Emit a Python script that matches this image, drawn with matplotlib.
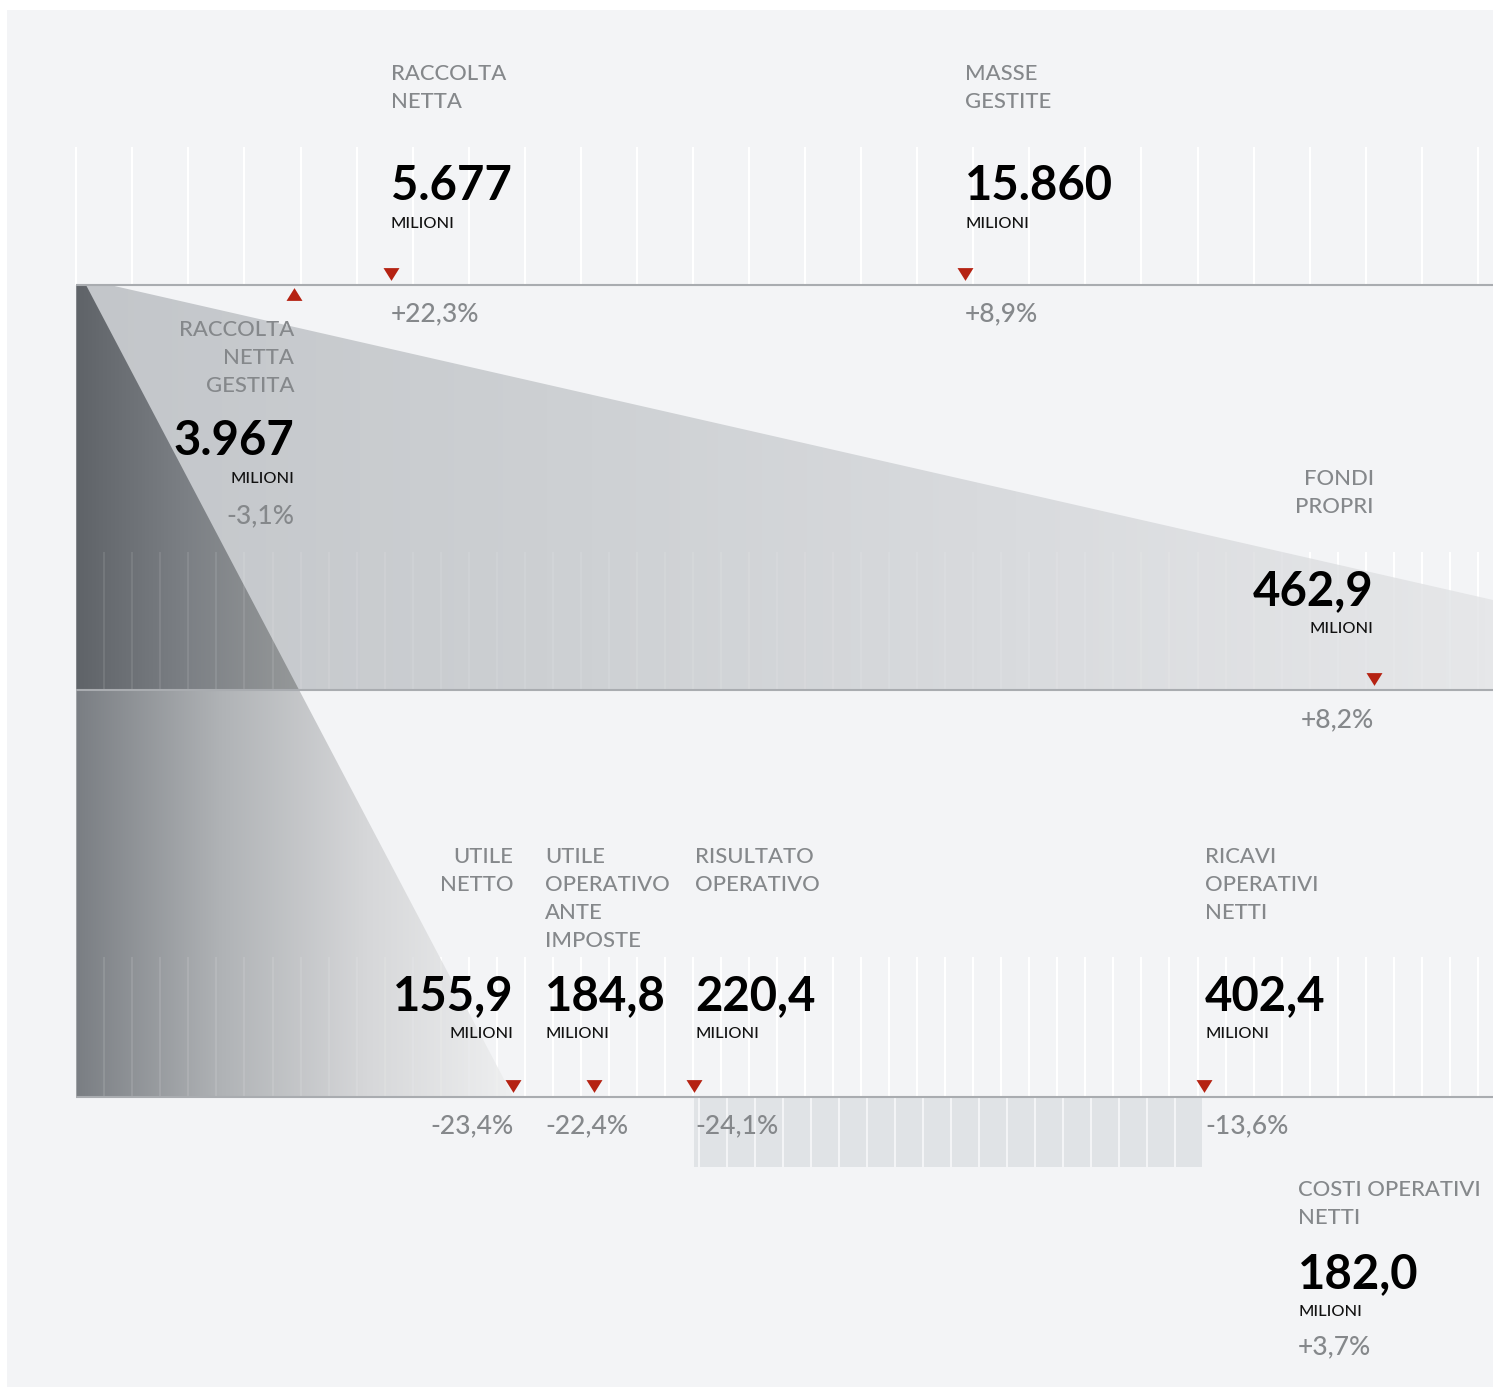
import numpy as np
import matplotlib.pyplot as plt
from matplotlib.patches import Polygon, Rectangle
from matplotlib.colors import LinearSegmentedColormap

# ---- data (milioni di euro) ----
top_labels = ["RACCOLTA\nNETTA", "MASSE\nGESTITE", "RACCOLTA\nNETTA\nGESTITA"]
top_values = [5677, 15860, 3967]
top_changes = ["+22,3%", "+8,9%", "-3,1%"]

low_labels = ["FONDI\nPROPRI", "UTILE\nNETTO", "UTILE\nOPERATIVO\nANTE\nIMPOSTE",
              "RISULTATO\nOPERATIVO", "RICAVI\nOPERATIVI\nNETTI"]
low_values = [462.9, 155.9, 184.8, 220.4, 402.4]
low_changes = ["+8,2%", "-23,4%", "-22,4%", "-24,1%", "-13,6%"]

cost_label = "COSTI OPERATIVI\nNETTI"
cost_value = 182.0
cost_change = "+3,7%"

# ---- look ----
W, H = 1493, 1389
BG = "#f3f4f6"
GREY = "#85888b"
RED = "#b52212"
BASE = "#a9acb0"
TOP_BASE, MID_BASE, LOW_BASE = 285, 690, 1097
LINE = 28
LABEL_FS, NUM_FS, MIL_FS, PCT_FS = 15.8, 34, 11.8, 19

plt.rcParams['font.family'] = ['Lato', 'DejaVu Sans']


def top_x(v):
    return 70.5 + 0.0564 * v


def low_x(v):
    return 76.3 + 2.803 * v


def fmt_top(v):
    return f"{v:,}".replace(",", ".")


def fmt_low(v):
    return f"{v:.1f}".replace(".", ",")


def gradient_fill(ax, verts, x0, x1, y0, y1, colors, z):
    patch = Polygon(verts, closed=True, facecolor="none", edgecolor="none", zorder=z)
    ax.add_patch(patch)
    cmap = LinearSegmentedColormap.from_list("g", colors)
    grad = np.linspace(0, 1, 256)[None, :]
    im = ax.imshow(grad, cmap=cmap, extent=[x0, x1, y1, y0], aspect="auto",
                   interpolation="bilinear", zorder=z)
    im.set_clip_path(patch)


def marker(ax, x, y, up=False):
    s = -1 if up else 1
    verts = [(-1, 0.8 * s), (1, 0.8 * s), (0, -0.8 * s)]
    ax.plot([x], [y], marker=verts, markersize=11.5, color=RED,
            markeredgewidth=0, linestyle="none", zorder=8)


def block(ax, x, ha, label, value_txt, change, label_y, num_y, pct_y):
    for i, line in enumerate(label.split("\n")):
        ax.text(x, label_y + LINE * i, line, ha=ha, va="baseline",
                fontsize=LABEL_FS, fontweight="medium", color=GREY, zorder=10)
    ax.text(x, num_y, value_txt, ha=ha, va="baseline", fontsize=NUM_FS,
            fontweight="bold", color="black", zorder=10)
    ax.text(x, num_y + 28, "MILIONI", ha=ha, va="baseline", fontsize=MIL_FS,
            fontweight="medium", color="#111111", zorder=10)
    ax.text(x, pct_y, change, ha=ha, va="baseline", fontsize=PCT_FS,
            fontweight="medium", color=GREY, zorder=10)


def main():
    fig = plt.figure(figsize=(W / 100, H / 100), dpi=100, facecolor="white")
    ax = fig.add_axes([0, 0, 1, 1])
    ax.set_axis_off()

    ax.add_patch(Rectangle((7, 10), W - 7, 1377, facecolor=BG, edgecolor="none", zorder=0))

    x_left = low_x(0)
    grid20 = low_x(np.arange(0, 501, 20))
    grid10 = low_x(np.arange(10, 501, 10))

    # top band grid
    ax.vlines(grid20, 147, TOP_BASE, color="white", lw=1.5, zorder=1)
    # middle / lower band grid (under the shading)
    ax.vlines(grid10, 957, LOW_BASE, color="white", lw=1.5, zorder=1)
    ax.vlines(grid10, 552, MID_BASE, color="white", lw=1.5, zorder=1)

    # light wedge
    wedge = [(x_left, TOP_BASE), (110, TOP_BASE), (W, 600), (W, MID_BASE), (x_left, MID_BASE)]
    gradient_fill(ax, wedge, x_left, W, TOP_BASE, MID_BASE,
                  ["#c3c6ca", "#cdd0d3", "#d9dbde", "#e6e7e9"], 2)

    # dark triangle ending on utile netto
    x_end = low_x(low_values[1])
    x_mid = 86 + (x_end - 86) * (MID_BASE - TOP_BASE) / (LOW_BASE - TOP_BASE)
    gradient_fill(ax, [(x_left, TOP_BASE), (86, TOP_BASE), (x_mid, MID_BASE), (x_left, MID_BASE)],
                  x_left, x_mid, TOP_BASE, MID_BASE, ["#5f6368", "#7c8085", "#959899"], 3)
    gradient_fill(ax, [(x_left, MID_BASE), (x_mid, MID_BASE), (x_end, LOW_BASE), (x_left, LOW_BASE)],
                  x_left, x_end, MID_BASE, LOW_BASE,
                  ["#7a7e83", "#b0b3b6", "#d6d7d9", "#eeeff0"], 3)

    # faint grid over shading
    ax.vlines(grid10, 552, MID_BASE, color="white", lw=1.3, alpha=0.1, zorder=4)
    ax.vlines(grid10, 957, LOW_BASE, color="white", lw=1.3, alpha=0.12, zorder=4)

    # costi operativi: 10M blocks from ricavi back to risultato operativo
    ricavi = low_values[4]
    start = ricavi - cost_value
    edges = np.concatenate(([start], np.arange(ricavi - 10 * int(cost_value // 10), ricavi + 1, 10)))
    for a, b in zip(edges[:-1], edges[1:]):
        ax.bar(low_x(a), 70, width=low_x(b) - low_x(a) - 2, bottom=LOW_BASE,
               align="edge", color="#e0e3e6", linewidth=0, zorder=2)

    # baselines
    for y in (TOP_BASE, MID_BASE, LOW_BASE):
        ax.hlines(y, x_left, W, color=BASE, lw=1.5, zorder=6)

    # top items
    top_layout = [("left", 80, 200, 321, False), ("left", 80, 200, 321, False),
                  ("right", 336, 455, 523, True)]
    for lab, v, ch, (ha, ly, ny, py, up) in zip(top_labels, top_values, top_changes, top_layout):
        x = top_x(v)
        marker(ax, x, TOP_BASE + 9 if up else TOP_BASE - 11, up)
        block(ax, x, ha, lab, fmt_top(v), ch, ly, ny, py)

    # lower items
    low_layout = [("right", 0, MID_BASE, 485, 605, 727),
                  ("right", 0, LOW_BASE, 863, 1010, 1133),
                  ("left", -49, LOW_BASE, 863, 1010, 1133),
                  ("left", 1, LOW_BASE, 863, 1010, 1133),
                  ("left", 1, LOW_BASE, 863, 1010, 1133)]
    for lab, v, ch, (ha, dx, base, ly, ny, py) in zip(low_labels, low_values, low_changes, low_layout):
        x = low_x(v)
        marker(ax, x, base - 11)
        block(ax, x + dx, ha, lab, fmt_low(v), ch, ly, ny, py)

    block(ax, 1298, "left", cost_label, fmt_low(cost_value), cost_change, 1196, 1288, 1354)

    ax.set_xlim(0, W)
    ax.set_ylim(H, 0)
    fig.savefig("out.png", dpi=100, facecolor="white")


if __name__ == "__main__":
    main()
